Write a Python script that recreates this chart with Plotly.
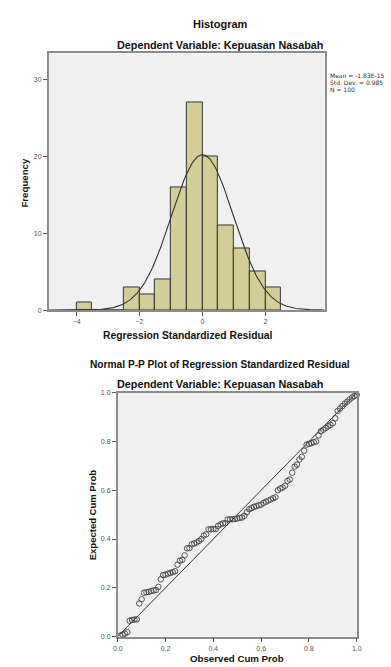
import plotly.graph_objects as go
import math

# ---------------- Data ----------------
bin_centers = [-3.75, -3.25, -2.75, -2.25, -1.75, -1.25, -0.75, -0.25, 0.25, 0.75, 1.25, 1.75, 2.25]
bin_counts = [1, 0, 0, 3, 2, 4, 16, 27, 20, 11, 8, 5, 3]
bin_width = 0.5
stat_mean = -1.83e-15
stat_sd = 0.985
stat_n = 100
stat_lines = ["Mean = -1.83E-15", "Std. Dev. = 0.985", "N = 100"]

hist_xticks = [-4, -2, 0, 2]
hist_yticks = [0, 10, 20, 30]

observed_cum_prob = [i / 100 for i in range(1, 101)]
expected_cum_prob = [
    0.004, 0.008, 0.012, 0.018, 0.065, 0.068, 0.070, 0.071, 0.136, 0.153,
    0.180, 0.182, 0.183, 0.187, 0.189, 0.191, 0.204, 0.235, 0.252, 0.254,
    0.258, 0.261, 0.264, 0.268, 0.295, 0.311, 0.315, 0.333, 0.362, 0.363,
    0.378, 0.382, 0.386, 0.392, 0.400, 0.414, 0.419, 0.440, 0.440, 0.441,
    0.441, 0.454, 0.460, 0.464, 0.465, 0.480, 0.481, 0.481, 0.482, 0.484,
    0.487, 0.488, 0.495, 0.510, 0.522, 0.527, 0.532, 0.535, 0.538, 0.541,
    0.548, 0.553, 0.558, 0.562, 0.567, 0.571, 0.600, 0.607, 0.611, 0.618,
    0.638, 0.644, 0.672, 0.697, 0.705, 0.726, 0.737, 0.762, 0.787, 0.790,
    0.793, 0.797, 0.800, 0.825, 0.842, 0.848, 0.855, 0.862, 0.868, 0.875,
    0.895, 0.925, 0.935, 0.945, 0.955, 0.963, 0.972, 0.980, 0.986, 0.991,
]
pp_ticks = [0.0, 0.2, 0.4, 0.6, 0.8, 1.0]

# ---------------- Layout helpers ----------------
W, H = 391, 667
def px(x):
    return x / W
def py(y):
    return 1 - y / H

FONT = "Liberation Sans, Arial, sans-serif"
BG = "#F0F0F0"
FRAME = "#8C8C8C"
BAR = "#D3CE97"
DARK = "#333333"
TICKC = "#555555"

hist_xrange = [-4.88, 3.88]
hist_yrange = [0, 33.45]

# normal curve from displayed statistics
curve_x = [hist_xrange[0] + k * (hist_xrange[1] - hist_xrange[0]) / 300 for k in range(301)]
curve_y = [stat_n * bin_width / (stat_sd * math.sqrt(2 * math.pi))
           * math.exp(-0.5 * ((v - stat_mean) / stat_sd) ** 2) for v in curve_x]

fig = go.Figure()
fig.add_trace(go.Bar(
    x=bin_centers, y=bin_counts, width=bin_width,
    marker=dict(color=BAR, line=dict(color=DARK, width=1)),
    xaxis="x", yaxis="y", showlegend=False, hoverinfo="x+y",
))
fig.add_trace(go.Scatter(
    x=curve_x, y=curve_y, mode="lines",
    line=dict(color=DARK, width=1.1),
    xaxis="x", yaxis="y", showlegend=False, hoverinfo="skip",
))
fig.add_trace(go.Scatter(
    x=[0, 1], y=[0, 1], mode="lines",
    line=dict(color=DARK, width=1),
    xaxis="x2", yaxis="y2", showlegend=False, hoverinfo="skip",
))
fig.add_trace(go.Scatter(
    x=observed_cum_prob, y=expected_cum_prob, mode="markers",
    marker=dict(symbol="circle-open", size=5.5, color="#444444", line=dict(width=0.9)),
    xaxis="x2", yaxis="y2", showlegend=False, cliponaxis=False,
))

axis_common = dict(
    showgrid=False, zeroline=False, showline=True, mirror=True,
    linecolor=FRAME, linewidth=1.6,
    ticks="outside", ticklen=4, tickwidth=1, tickcolor=TICKC,
    tickfont=dict(family=FONT, size=7, color=TICKC),
    fixedrange=True,
)

fig.update_layout(
    width=W, height=H,
    margin=dict(l=0, r=0, t=0, b=0),
    paper_bgcolor="white",
    plot_bgcolor=BG,
    bargap=0,
    xaxis=dict(domain=[px(45), px(328)], range=hist_xrange,
               tickvals=hist_xticks, anchor="y", **axis_common),
    yaxis=dict(domain=[py(309.3), py(50)], range=hist_yrange,
               tickvals=hist_yticks, anchor="x", **axis_common),
    xaxis2=dict(domain=[px(115.7), px(361)], range=[0, 1],
                tickvals=pp_ticks, tickformat=".1f", anchor="y2", **axis_common),
    yaxis2=dict(domain=[py(639.3), py(392.8)], range=[0, 1],
                tickvals=pp_ticks, tickformat=".1f", anchor="x2", **axis_common),
)

def note(text, x, y, size, bold=False, angle=0, xanchor="center", yanchor="middle",
         align="center", color="#111111", family=FONT, pad=1):
    fig.add_annotation(
        text=f"<b>{text}</b>" if bold else text,
        x=px(x), y=py(y), xref="paper", yref="paper",
        showarrow=False, textangle=angle,
        xanchor=xanchor, yanchor=yanchor, align=align, borderpad=pad,
        font=dict(family=family, size=size, color=color),
    )

# Histogram texts
note("Histogram", 221, 20.5, 11, bold=True)
note("Dependent Variable: Kepuasan Nasabah", 221, 41, 10.8, bold=True)
for k, line in enumerate(stat_lines):
    note(line, 332.5, 72.5 + 6.8 * k, 6, xanchor="left", align="left",
         color="#333333", family="DejaVu Sans, sans-serif", pad=0)
note("Frequency", 20, 180, 9.7, bold=True, angle=-90)
note("Regression Standardized Residual", 187.7, 335, 10.3, bold=True)

# P-P plot texts
note("Normal P-P Plot of Regression Standardized Residual", 221, 364.5, 10.2, bold=True)
note("Dependent Variable: Kepuasan Nasabah", 221, 384, 10.8, bold=True)
note("Expected Cum Prob", 90, 517, 9.5, bold=True, angle=-90)
note("Observed Cum Prob", 238.5, 661.5, 9.7, bold=True)

fig.write_html(
    "out.html",
    config={"displayModeBar": False},
    post_script=(
        "document.documentElement.style.margin='0';"
        "document.body.style.margin='0';document.body.style.padding='0';"
        "document.documentElement.style.overflow='hidden';"
    ),
)
